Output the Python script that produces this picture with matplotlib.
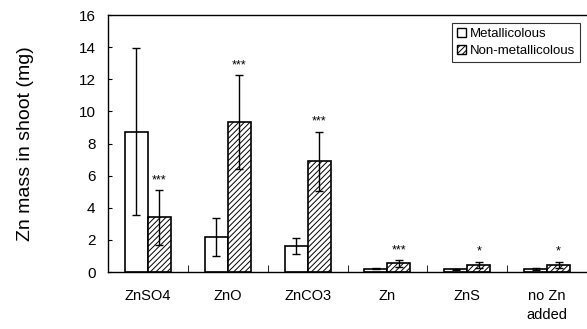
"""Zn mass in shoot by Zn source, metallicolous vs non-metallicolous."""

import numpy as np
import matplotlib
matplotlib.use("Agg")
import matplotlib.pyplot as plt
from matplotlib.patches import Patch

plt.rcParams["font.family"] = ["Liberation Sans", "DejaVu Sans"]

sources = ["ZnSO4", "ZnO", "ZnCO3", "Zn", "ZnS", "no Zn\nadded"]
metal_mean = [8.75, 2.2, 1.62, 0.22, 0.17, 0.2]
metal_err = [5.2, 1.17, 0.5, 0.05, 0.05, 0.05]
nonmetal_mean = [3.4, 9.35, 6.9, 0.54, 0.45, 0.45]
nonmetal_err = [1.7, 2.9, 1.85, 0.2, 0.2, 0.2]
signif = ["***", "***", "***", "***", "*", "*"]

fig = plt.figure(figsize=(5.87, 3.29), dpi=100)
ax = fig.add_axes([0.184, 0.173, 0.816, 0.781])

x = np.arange(len(sources))
w = 0.2875
ekw = dict(ecolor="black", elinewidth=1.0, capsize=3, capthick=1.0)

plt.rcParams["hatch.linewidth"] = 0.7
ax.bar(x - w / 2, metal_mean, w, yerr=metal_err, color="white",
       edgecolor="black", linewidth=1.2, error_kw=ekw, zorder=2)
ax.bar(x + w / 2, nonmetal_mean, w, yerr=nonmetal_err, color="white",
       edgecolor="black", linewidth=1.2, hatch="//////", error_kw=ekw, zorder=2)

for xi, m, e, s in zip(x, nonmetal_mean, nonmetal_err, signif):
    ax.annotate(s, (xi + w / 2, m + e), xytext=(0, 3), textcoords="offset points",
                ha="center", va="bottom", fontsize=9)

ax.set_xlim(-0.5, len(sources) - 0.5)
ax.set_ylim(0, 16)
ax.set_yticks(range(0, 17, 2))
ax.tick_params(axis="y", direction="in", length=3, labelsize=11, pad=9)
ax.set_xticks(x)
ax.set_xticklabels(sources, fontsize=10.5, linespacing=1.5)
ax.set_xticks(np.arange(0.5, len(sources) - 0.5, 1), minor=True)
ax.tick_params(axis="x", which="major", length=0, pad=12)
ax.tick_params(axis="x", which="minor", direction="in", length=5)
ax.spines["right"].set_visible(False)
for sp in ["left", "top", "bottom"]:
    ax.spines[sp].set_linewidth(1.0)

ax.set_ylabel("Zn mass in shoot (mg)", fontsize=14, labelpad=32)

handles = [Patch(facecolor="white", edgecolor="black", label="Metallicolous"),
           Patch(facecolor="white", edgecolor="black", hatch="//////",
                 label="Non-metallicolous")]
leg = ax.legend(handles=handles, loc="upper right", bbox_to_anchor=(0.985, 0.969),
                fontsize=9.5, frameon=True, fancybox=False, handlelength=0.7,
                handleheight=0.7, handletextpad=0.3, borderpad=0.35,
                labelspacing=0.4, borderaxespad=0)
leg.get_frame().set_edgecolor("black")
leg.get_frame().set_linewidth(0.8)

fig.savefig("out.png", dpi=100)
